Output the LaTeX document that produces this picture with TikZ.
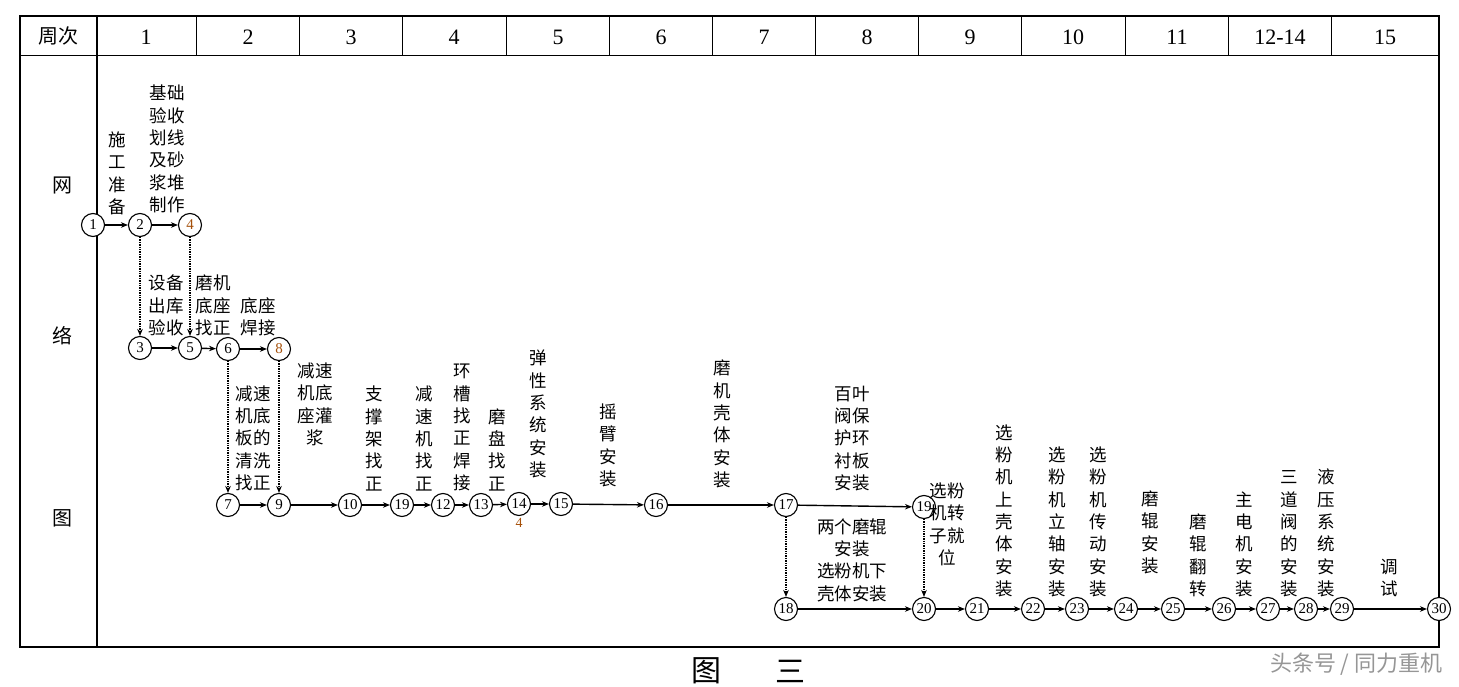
\documentclass[tikz,border=0pt]{standalone}
\usepackage{fontspec}
\setmainfont{Liberation Serif}
\newfontfamily\cjk{Noto Sans CJK SC}
\usepackage{xcolor}
\definecolor{numbrown}{RGB}{165,80,10}
\definecolor{markgray}{RGB}{150,150,150}
\usetikzlibrary{arrows.meta, positioning}
\tikzset{
  evt/.style={circle, draw, line width=1.1pt, fill=white,
    minimum size=23pt, inner sep=0pt, font=\fontsize{15}{15}\selectfont},
  task/.style={font=\cjk\fontsize{17.5}{22.3}\selectfont,
    align=center, inner sep=0pt, anchor=south},
  hdr/.style={font=\fontsize{22}{22}\selectfont, inner sep=0pt},
  side/.style={font=\cjk\fontsize{20}{20}\selectfont, inner sep=0pt},
  arr/.style={-{Stealth[length=7pt, width=5.5pt]}, line width=1.4pt},
  darr/.style={-{Stealth[length=7pt, width=5.5pt]}, line width=1.4pt, densely dotted},
}

\begin{document}
\begin{tikzpicture}[x=1pt, y=-1pt]
  \useasboundingbox (0,0) rectangle (1459,687);

  % Table frame
  \draw[line width=1.3pt] (20,16) rectangle (1439,647);
  \draw[line width=1pt] (20,56) -- (1439,56);
  \draw[line width=1.3pt] (97,16) -- (97,647);
  \foreach \x in {196,299,402,506,609,712,815,918,1021,1125,1228,1331}
    \draw[line width=1pt] (\x,16) -- (\x,56);

  % Header
  \node[hdr, font=\cjk\fontsize{20}{20}\selectfont] (h0) at (58,36) {周次};
  \foreach \x/\t [count=\i] in {146/1, 248/2, 351/3, 454/4, 558/5, 661/6,
      764/7, 867/8, 970/9, 1073/10, 1177/11, 1280/12-14, 1385/15}
    \node[hdr] (h\i) at (\x,37) {\t};

  % Side labels
  \node[side] (s1) at (62,185) {网};
  \node[side] (s2) at (62,336) {络};
  \node[side] (s3) at (62,518) {图};

  % Events, row 1 and 2
  \node[evt] (n1) at (93,225) {1};
  \node[evt] (n2) at (140,225) {2};
  \node[evt, text=numbrown] (n4) at (190,225) {4};
  \node[evt] (n3) at (140,348) {3};
  \node[evt] (n5) at (190,348) {5};
  \node[evt] (n6) at (228,349) {6};
  \node[evt, text=numbrown] (n8) at (279,349) {8};

  % Events, row 3
  \node[evt] (n7) at (228,505) {7};
  \node[evt] (n9) at (279,505) {9};
  \node[evt] (n10) at (350,505) {10};
  \node[evt] (n19a) at (402,505) {19};
  \node[evt] (n12) at (443,505) {12};
  \node[evt] (n13) at (481,505) {13};
  \node[evt] (n14) at (519,504) {14};
  \node[font=\fontsize{14}{14}\selectfont, text=numbrown, inner sep=0pt]
    (n14note) at (519,523) {4};
  \node[evt] (n15) at (561,504) {15};
  \node[evt] (n16) at (656,505) {16};
  \node[evt] (n17) at (786,505) {17};
  \node[evt] (n19b) at (924,507) {19};

  % Events, row 4
  \node[evt] (n18) at (786,609) {18};
  \node[evt] (n20) at (924,609) {20};
  \node[evt] (n21) at (977,609) {21};
  \node[evt] (n22) at (1033,609) {22};
  \node[evt] (n23) at (1077,609) {23};
  \node[evt] (n24) at (1126,609) {24};
  \node[evt] (n25) at (1173,609) {25};
  \node[evt] (n26) at (1224,609) {26};
  \node[evt] (n27) at (1268,609) {27};
  \node[evt] (n28) at (1306,609) {28};
  \node[evt] (n29) at (1342,609) {29};
  \node[evt] (n30) at (1439,609) {30};

  % Arrows
  \draw[arr] (n1) -- (n2);
  \draw[arr] (n2) -- (n4);
  \draw[arr] (n3) -- (n5);
  \draw[arr] (n5) -- (n6);
  \draw[arr] (n6) -- (n8);
  \draw[arr] (n7) -- (n9);
  \draw[arr] (n9) -- (n10);
  \draw[arr] (n10) -- (n19a);
  \draw[arr] (n19a) -- (n12);
  \draw[arr] (n12) -- (n13);
  \draw[arr] (n13) -- (n14);
  \draw[arr] (n14) -- (n15);
  \draw[arr] (n15) -- (n16);
  \draw[arr] (n16) -- (n17);
  \draw[arr] (n17) -- (n19b);
  \draw[arr] (n18) -- (n20);
  \draw[arr] (n20) -- (n21);
  \draw[arr] (n21) -- (n22);
  \draw[arr] (n22) -- (n23);
  \draw[arr] (n23) -- (n24);
  \draw[arr] (n24) -- (n25);
  \draw[arr] (n25) -- (n26);
  \draw[arr] (n26) -- (n27);
  \draw[arr] (n27) -- (n28);
  \draw[arr] (n28) -- (n29);
  \draw[arr] (n29) -- (n30);

  % Dummy works
  \draw[darr] (n2) -- (n3);
  \draw[darr] (n4) -- (n5);
  \draw[darr] (n6) -- (n7);
  \draw[darr] (n8) -- (n9);
  \draw[darr] (n17) -- (n18);
  \draw[darr] (n19b) -- (n20);

  % Work labels
  \node[task] (t12) at (117,215) {施\\工\\准\\备};
  \node[task] (t24) at (167,213) {基础\\验收\\划线\\及砂\\浆堆\\制作};
  \node[task] (t35) at (166,336) {设备\\出库\\验收};
  \node[task] (t45) at (213,336) {磨机\\底座\\找正};
  \node[task] (t68) at (258,336) {底座\\焊接};
  \node[task] (t79) at (253,491) {减速\\机底\\板的\\清洗\\找正};
  \node[task] (t910) at (315,446) {减速\\机底\\座灌\\浆};
  \node[task] (t1019) at (374,491) {支\\撑\\架\\找\\正};
  \node[task] (t1912) at (424,491) {减\\速\\机\\找\\正};
  \node[task] (t1213) at (462,491) {环\\槽\\找\\正\\焊\\接};
  \node[task] (t1314) at (497,491) {磨\\盘\\找\\正};
  \node[task] (t1415) at (538,478) {弹\\性\\系\\统\\安\\装};
  \node[task] (t1516) at (608,487) {摇\\臂\\安\\装};
  \node[task] (t1617) at (722,488) {磨\\机\\壳\\体\\安\\装};
  \node[task] (t1719) at (852,491) {百叶\\阀保\\护环\\衬板\\安装};
  \node[task] (t1820) at (852,602) {两个磨辊\\安装\\选粉机下\\壳体安装};
  \node[task] (t1920) at (947,566) {选粉\\机转\\子就\\位};
  \node[task] (t2122) at (1004,597) {选\\粉\\机\\上\\壳\\体\\安\\装};
  \node[task] (t2223) at (1057,597) {选\\粉\\机\\立\\轴\\安\\装};
  \node[task] (t2324) at (1098,597) {选\\粉\\机\\传\\动\\安\\装};
  \node[task] (t2425) at (1150,574) {磨\\辊\\安\\装};
  \node[task] (t2526) at (1198,597) {磨\\辊\\翻\\转};
  \node[task] (t2627) at (1244,597) {主\\电\\机\\安\\装};
  \node[task] (t2728) at (1289,597) {三\\道\\阀\\的\\安\\装};
  \node[task] (t2829) at (1326,597) {液\\压\\系\\统\\安\\装};
  \node[task] (t2930) at (1389,597) {调\\试};

  % Caption
  \node[font=\cjk\fontsize{30}{30}\selectfont] (cap1) at (706,671) {图};
  \node[font=\cjk\fontsize{30}{30}\selectfont] (cap2) at (790,671) {三};
  \node[font=\cjk\fontsize{22}{22}\selectfont, text=markgray, anchor=east]
    (mark) at (1446,664) {头条号 / 同力重机};
\end{tikzpicture}
\end{document}
